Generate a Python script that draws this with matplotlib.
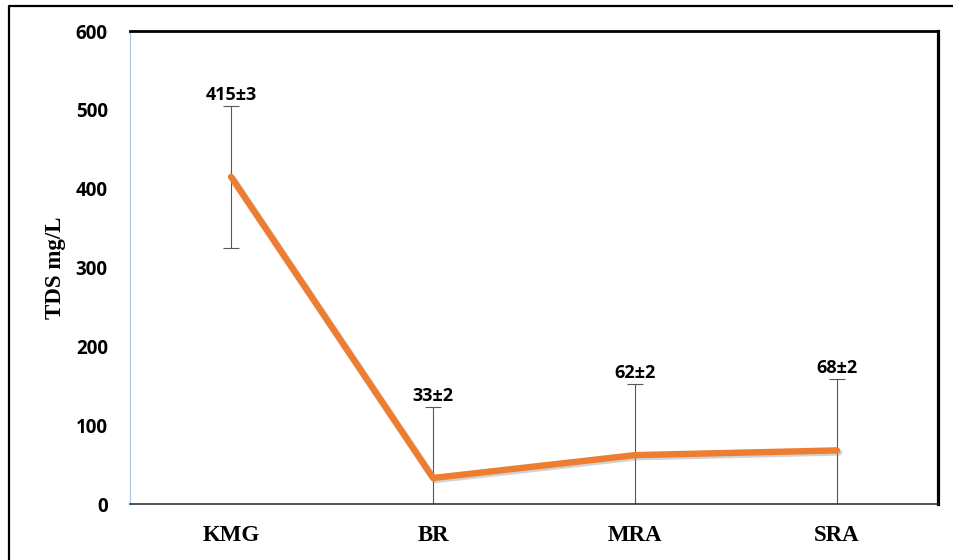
import matplotlib
matplotlib.use('Agg')
import matplotlib.pyplot as plt
import matplotlib.patheffects as pe
from matplotlib.lines import Line2D

sites = ['KMG', 'BR', 'MRA', 'SRA']
tds = [415, 33, 62, 68]
tds_sd = [3, 2, 2, 2]
err_bar = [90, 90, 90, 90]
yticks = [0, 100, 200, 300, 400, 500, 600]

fig = plt.figure(figsize=(9.54, 5.6), dpi=100)
ax = fig.add_axes([0.1363, 0.1, 0.8469, 0.8446])

x = list(range(len(sites)))

# error bars first so the line sits on top
ax.errorbar(x, tds, yerr=err_bar, fmt='none', ecolor='#595959',
            elinewidth=0.8, capsize=6, capthick=0.8, zorder=2)

ax.plot(x, tds, color='#ED7D31', lw=4.6, solid_capstyle='round',
        solid_joinstyle='round', zorder=3,
        path_effects=[pe.SimpleLineShadow(offset=(1.5, -1.5), shadow_color='gray', alpha=0.35),
                      pe.Normal()])

for xi, v, s, e in zip(x, tds, tds_sd, err_bar):
    ax.text(xi, v + e + 14, f'{v}±{s}', ha='center', va='center',
            fontsize=13, fontweight='bold', family='Open Sans', color='black', zorder=4)

ax.set_xlim(-0.5, len(sites) - 0.5)
ax.set_ylim(0, 600)
ax.set_yticks(yticks)
ax.set_yticklabels([str(t) for t in yticks], fontsize=13.5, fontweight='bold', family='Open Sans')
ax.set_xticks(x)
ax.set_xticklabels(sites, fontsize=16.5, fontweight='bold', family='Liberation Serif')
ax.tick_params(axis='both', length=0)
ax.tick_params(axis='y', pad=16)
ax.tick_params(axis='x', pad=15)

ax.set_ylabel('TDS mg/L', fontsize=16.5, fontweight='bold', family='Liberation Serif', labelpad=7)

ax.spines['top'].set_linewidth(2.0)
ax.spines['right'].set_linewidth(2.3)
ax.spines['bottom'].set_linewidth(1.1)
ax.spines['bottom'].set_color('#222222')
ax.spines['left'].set_linewidth(0.8)
ax.spines['left'].set_color('#a9c4e0')

# frame around the chart area
x0 = 9.5 / 954
ytop = 1 - 5.5 / 560
fig.add_artist(Line2D([x0, x0, 1.0], [0.0, ytop, ytop], color='black', lw=1.6,
                      transform=fig.transFigure))

fig.savefig('out.png', dpi=100)
